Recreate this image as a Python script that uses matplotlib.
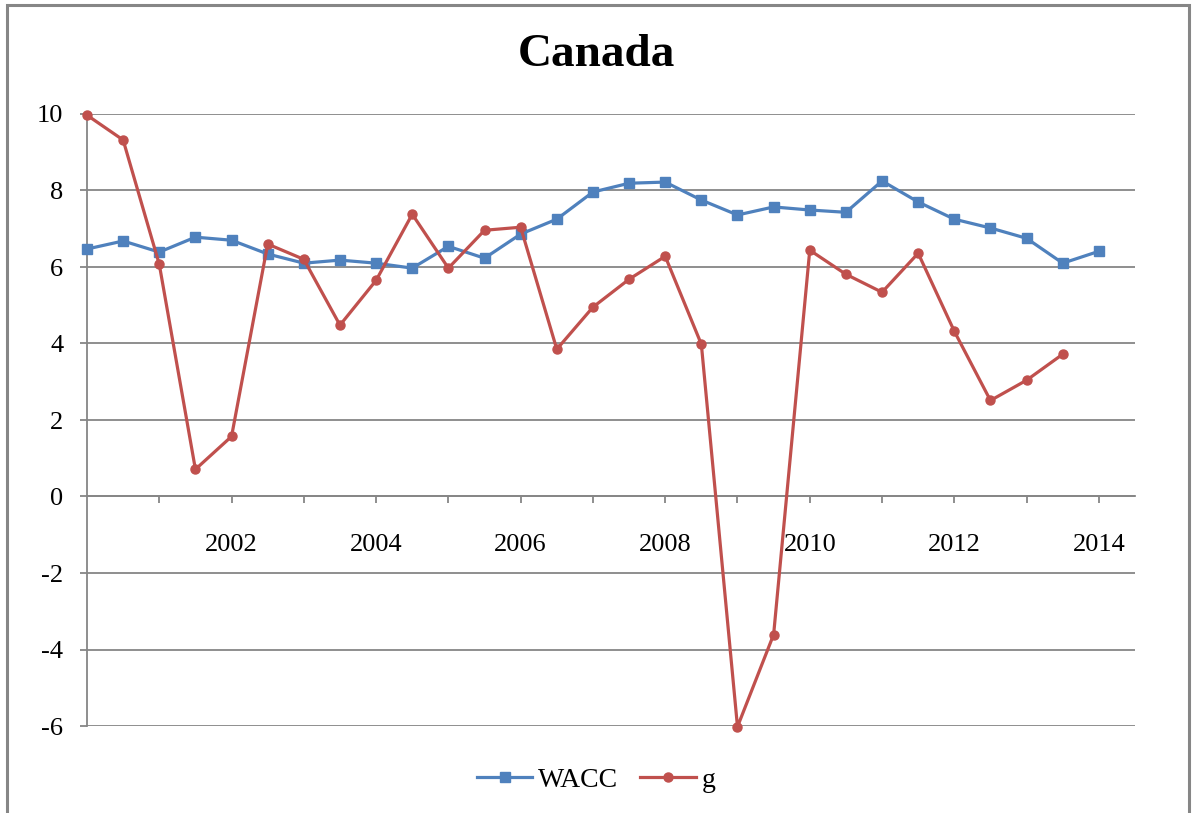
import matplotlib.pyplot as plt
from matplotlib.patches import Rectangle
from matplotlib.ticker import FixedLocator, FuncFormatter

# half-year periods
periods = [2000.0, 2000.5, 2001.0, 2001.5, 2002.0, 2002.5, 2003.0, 2003.5,
           2004.0, 2004.5, 2005.0, 2005.5, 2006.0, 2006.5, 2007.0, 2007.5,
           2008.0, 2008.5, 2009.0, 2009.5, 2010.0, 2010.5, 2011.0, 2011.5,
           2012.0, 2012.5, 2013.0, 2013.5, 2014.0]

wacc = [6.47, 6.68, 6.39, 6.78, 6.70, 6.34, 6.10, 6.18, 6.10, 5.97,
        6.54, 6.23, 6.86, 7.25, 7.96, 8.19, 8.22, 7.75, 7.36, 7.57,
        7.49, 7.43, 8.25, 7.70, 7.25, 7.02, 6.75, 6.10, 6.41]

g = [9.97, 9.32, 6.07, 0.71, 1.57, 6.60, 6.20, 4.48, 5.65, 7.38,
     5.97, 6.96, 7.04, 3.85, 4.95, 5.68, 6.28, 3.98, -6.02, -3.61,
     6.44, 5.81, 5.34, 6.36, 4.32, 2.51, 3.04, 3.72]

year_ticks = [2001, 2002, 2003, 2004, 2005, 2006, 2007, 2008, 2009, 2010,
              2011, 2012, 2013, 2014]
y_ticks = [-6, -4, -2, 0, 2, 4, 6, 8, 10]

blue = '#4F81BD'
red = '#C0504D'
grey = '#868686'

plt.rcParams['font.family'] = ['Liberation Serif', 'DejaVu Serif']
plt.rcParams['axes.unicode_minus'] = False

fig = plt.figure(figsize=(11.92, 8.13), dpi=100)
ax = fig.add_axes([87 / 1192, 1 - 726 / 813, (1135 - 87) / 1192, (726 - 114) / 813])

ax.plot(periods, wacc, color=blue, lw=2.3, marker='s', ms=6.5, label='WACC',
        clip_on=False, zorder=3)
ax.plot(periods[:len(g)], g, color=red, lw=2.3, marker='o', ms=6.5, label='g',
        clip_on=False, zorder=3)

ax.set_xlim(2000, 2014.5)
ax.set_ylim(-6, 10)

ax.set_yticks(y_ticks)
ax.yaxis.grid(True, color=grey, lw=1.3)
ax.set_axisbelow(True)

ax.xaxis.set_major_locator(FixedLocator(year_ticks))
ax.xaxis.set_major_formatter(FuncFormatter(lambda v, p: str(int(v)) if int(v) % 2 == 0 else ''))

ax.spines['bottom'].set_position(('data', 0))
for s in ['top', 'right']:
    ax.spines[s].set_visible(False)
for s in ['left', 'bottom']:
    ax.spines[s].set_color(grey)
    ax.spines[s].set_linewidth(1.3)

ax.tick_params(axis='x', direction='out', length=5, width=1.3, color=grey,
               labelsize=19, pad=22)
ax.tick_params(axis='y', direction='out', length=5, width=1.3, color=grey,
               labelsize=19, pad=12)

fig.text(0.5, 1 - 55 / 813, 'Canada', ha='center', va='center',
         fontsize=34, fontweight='bold')

fig.legend(loc='center', bbox_to_anchor=(0.5, 1 - 780 / 813), ncol=2,
           frameon=False, fontsize=20, handlelength=2.0, columnspacing=0.8,
           handletextpad=0.2)

# outer chart frame
fig.patches.append(Rectangle((7 / 1192, -0.05), (1189 - 7) / 1192, 1.05 - 5 / 813,
                             transform=fig.transFigure, fill=False,
                             edgecolor=grey, lw=2.2, clip_on=False))

fig.savefig('out.png', dpi=100)
